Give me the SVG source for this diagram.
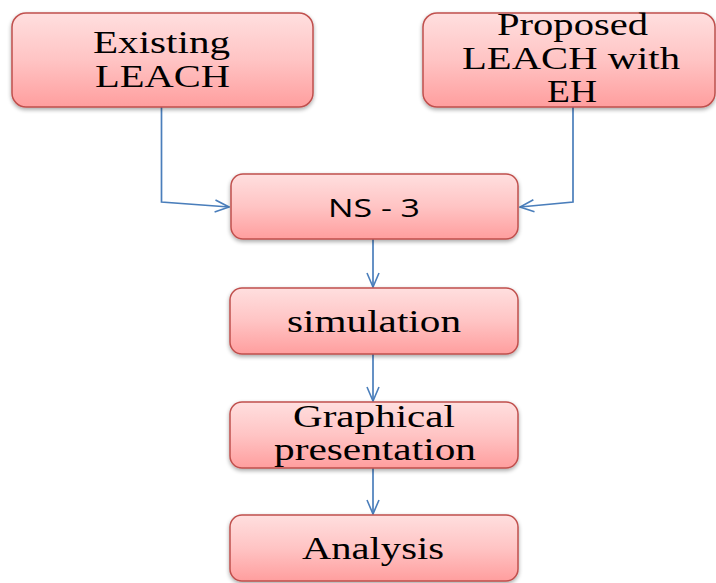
<svg xmlns="http://www.w3.org/2000/svg" width="716" height="583" viewBox="0 0 716 583">
<defs>
<linearGradient id="g" x1="0" y1="0" x2="0" y2="1">
<stop offset="0" stop-color="#ffdfdf"/>
<stop offset="0.5" stop-color="#ffc4c4"/>
<stop offset="1" stop-color="#ff9e9e"/>
</linearGradient>
<filter id="sh" x="-10%" y="-10%" width="120%" height="130%">
<feGaussianBlur in="SourceAlpha" stdDeviation="2"/>
<feOffset dx="0" dy="2" result="b"/>
<feComponentTransfer><feFuncA type="linear" slope="0.35"/></feComponentTransfer>
<feMerge><feMergeNode/><feMergeNode in="SourceGraphic"/></feMerge>
</filter>
<marker id="arr" viewBox="0 0 16 14" refX="15" refY="7" markerWidth="16" markerHeight="14" markerUnits="userSpaceOnUse" orient="auto">
<path d="M1,1 L15,7 L1,13" fill="none" stroke="#4a7ebb" stroke-width="1.6"/>
</marker>
</defs>
<style>
.box{fill:url(#g);stroke:#c0504d;stroke-width:1.5;filter:url(#sh)}
.t{font-family:"Liberation Serif","Times New Roman",serif;font-size:31px;fill:#000;text-anchor:middle}
.s{font-family:"Open Sans","DejaVu Sans",sans-serif;font-size:25px;fill:#000;text-anchor:middle}
.c{fill:none;stroke:#4a7ebb;stroke-width:1.7;marker-end:url(#arr)}
</style>
<rect width="716" height="583" fill="#fff"/>
<g id="connectors">
<polyline class="c" points="161.5,107 161.5,202 229,207"/>
<polyline class="c" points="573,107 573,202 520,207"/>
<line class="c" x1="373" y1="239" x2="373" y2="287"/>
<line class="c" x1="373" y1="354" x2="373" y2="401"/>
<line class="c" x1="373" y1="468" x2="373" y2="514"/>
</g>
<g id="existing">
<rect class="box" x="12" y="13" width="301" height="94" rx="14"/>
<text class="t" x="161.5" y="53" textLength="137" lengthAdjust="spacingAndGlyphs">Existing</text>
<text class="t" x="162.5" y="87" textLength="135" lengthAdjust="spacingAndGlyphs">LEACH</text>
</g>
<g id="proposed">
<rect class="box" x="423" y="13" width="292" height="94" rx="14"/>
<text class="t" x="572.5" y="35" textLength="151" lengthAdjust="spacingAndGlyphs">Proposed</text>
<text class="t" x="571" y="69" textLength="218" lengthAdjust="spacingAndGlyphs">LEACH with</text>
<text class="t" x="572" y="102" textLength="50" lengthAdjust="spacingAndGlyphs">EH</text>
</g>
<g id="ns3">
<rect class="box" x="231" y="174" width="287" height="65" rx="12"/>
<text class="s" x="374" y="217" textLength="92" lengthAdjust="spacingAndGlyphs">NS - 3</text>
</g>
<g id="simulation">
<rect class="box" x="230" y="288" width="288" height="66" rx="12"/>
<text class="t" x="374" y="332" textLength="174" lengthAdjust="spacingAndGlyphs">simulation</text>
</g>
<g id="graphical">
<rect class="box" x="230" y="402" width="288" height="66" rx="12"/>
<text class="t" x="374" y="427" textLength="162" lengthAdjust="spacingAndGlyphs">Graphical</text>
<text class="t" x="375" y="460" textLength="202" lengthAdjust="spacingAndGlyphs">presentation</text>
</g>
<g id="analysis">
<rect class="box" x="230" y="515" width="288" height="66" rx="12"/>
<text class="t" x="373" y="559" textLength="142" lengthAdjust="spacingAndGlyphs">Analysis</text>
</g>
</svg>
